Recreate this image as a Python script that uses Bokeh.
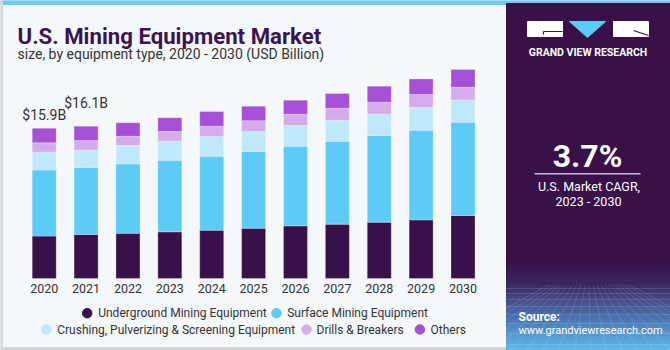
import numpy as np
from bokeh.plotting import figure
from bokeh.models import Range1d, ColumnDataSource
from bokeh.core.properties import value
from bokeh.embed import file_html
from bokeh.resources import INLINE

# ---------------- data ----------------
years = [2020, 2021, 2022, 2023, 2024, 2025, 2026, 2027, 2028, 2029, 2030]
underground = [4.49, 4.66, 4.79, 4.94, 5.11, 5.32, 5.57, 5.75, 5.96, 6.20, 6.67]
surface = [7.00, 7.09, 7.34, 7.58, 7.83, 8.12, 8.43, 8.78, 9.17, 9.49, 9.87]
crushing = [1.88, 1.83, 1.94, 2.01, 2.08, 2.12, 2.19, 2.22, 2.29, 2.40, 2.36]
drills = [0.99, 1.03, 0.98, 1.03, 1.09, 1.13, 1.20, 1.27, 1.24, 1.38, 1.34]
others = [1.53, 1.51, 1.42, 1.45, 1.56, 1.54, 1.48, 1.56, 1.69, 1.65, 1.87]
series_names = ["Underground Mining Equipment", "Surface Mining Equipment",
                "Crushing, Pulverizing & Screening Equipment", "Drills & Breakers", "Others"]
label_years = [2020, 2021]
label_values = [15.9, 16.1]
label_texts = ["$15.9B", "$16.1B"]
year_labels = [str(y) for y in years]

# ---------------- styles ----------------
colors = ["#38104a", "#5ecaf6", "#bfe9fa", "#d5abec", "#a650d8"]
BG = "#f4f8fb"
PANEL = "#371148"
FONT = "Roboto"
label_offsets = [-13, -23.5]

src = ColumnDataSource(dict(year=years, s0=underground, s1=surface, s2=crushing,
                            s3=drills, s4=others))

p = figure(width=670, height=350,
           x_range=Range1d(2018.9565, 2034.9545), y_range=Range1d(-7.619, 29.418),
           output_backend="svg", toolbar_location=None, min_border=0,
           x_axis_location=None, y_axis_location=None,
           background_fill_color=BG, border_fill_color=BG, outline_line_color=None)
p.xgrid.visible = False
p.ygrid.visible = False
p.extra_x_ranges = {"px": Range1d(0, 670)}
p.extra_y_ranges = {"px": Range1d(350, 0)}
PX = dict(x_range_name="px", y_range_name="px")

# ---------------- frame decorations ----------------
p.quad(left=[0], right=[670], top=[0], bottom=[4], color="#6dcaf0", **PX)
p.quad(left=[0], right=[2], top=[0], bottom=[350], color="#d6dadd", **PX)
p.quad(left=[0], right=[670], top=[347], bottom=[350], color="#d2d6d9", **PX)

# right panel with gradient at the bottom
p.quad(left=[506], right=[670], top=[3], bottom=[350], color=PANEL, **PX)
stops_y = [262, 285, 300, 320, 350]
stops_c = [(0x37, 0x11, 0x48), (0x3b, 0x28, 0x62), (0x45, 0x4c, 0x88),
           (0x4a, 0x78, 0xb4), (0x60, 0xba, 0xea)]
ys = np.arange(262, 350, 2)
cols = []
for yv in ys:
    rgb = [int(np.interp(yv + 1, stops_y, [c[k] for c in stops_c])) for k in range(3)]
    cols.append("#%02x%02x%02x" % tuple(rgb))
p.quad(left=506, right=670, top=list(ys), bottom=list(ys + 2), color=cols, **PX)
# faint perspective grid
hy = [288, 293, 299, 306, 314, 323, 333, 344]
p.multi_line(xs=[[506, 670]] * len(hy), ys=[[h, h] for h in hy],
             line_color="white", line_alpha=0.13, line_width=1, **PX)
vx = np.arange(430, 760, 16)
p.multi_line(xs=[[588 + (v - 588) * 0.25, v] for v in vx], ys=[[284, 350]] * len(vx),
             line_color="white", line_alpha=0.13, line_width=1, **PX)

# logo
p.quad(left=[527, 613], right=[562, 648], top=[21, 21], bottom=[36, 36], color="white", **PX)
p.patch(x=[569, 605, 587], y=[21, 21, 37], color="#5ecaf6", **PX)
p.multi_line(xs=[[543, 562], [543, 543], [633, 648]], ys=[[31, 31], [31, 34], [30, 35]],
             line_color=PANEL, line_width=1.2, **PX)
p.text(x=[587.5], y=[51.7], text=["GRAND VIEW RESEARCH"], text_font=value(FONT),
       text_font_style="bold", text_font_size="10.5px", text_color="white",
       text_align="center", text_baseline="middle", **PX)

# CAGR block
p.text(x=[587], y=[155], text=["3.7%"], text_font=value(FONT), text_font_style="bold",
       text_font_size="32px", text_color="white", text_align="center",
       text_baseline="middle", **PX)
p.segment(x0=[534], y0=[173.3], x1=[640], y1=[173.3], line_color="#c9b9dc",
          line_width=1.5, **PX)
p.text(x=[588.5, 588], y=[185.5, 201], text=["U.S. Market CAGR,", "2023 - 2030"],
       text_font=value(FONT), text_font_size="12.5px", text_color="white",
       text_align="center", text_baseline="middle", **PX)
p.text(x=[518], y=[316], text=["Source:"], text_font=value(FONT), text_font_style="bold",
       text_font_size="12px", text_color="white", text_align="left",
       text_baseline="middle", **PX)
p.text(x=[518], y=[329.5], text=["www.grandviewresearch.com"], text_font=value(FONT),
       text_font_size="11px", text_color="white", text_align="left",
       text_baseline="middle", **PX)

# titles
p.text(x=[17], y=[35], text=["U.S. Mining Equipment Market"], text_font=value(FONT),
       text_font_style="bold", text_font_size="22.2px", text_color="#3a1450",
       text_align="left", text_baseline="alphabetic", **PX)
p.text(x=[17], y=[53.5], text=["size, by equipment type, 2020 - 2030 (USD Billion)"],
       text_font=value(FONT), text_font_size="14px", text_color="#333333",
       text_align="left", text_baseline="alphabetic", **PX)

# ---------------- bars ----------------
p.vbar_stack(["s0", "s1", "s2", "s3", "s4"], x="year", width=0.573, color=colors,
             line_color="white", line_alpha=0.35, line_width=0.8, source=src)

# year labels
p.text(x=years, y=287.5, text=year_labels, text_font=value(FONT), text_font_size="12.5px",
       text_color="#333333", text_align="center", text_baseline="middle",
       y_range_name="px")

# value labels
p.text(x=label_years, y=label_values, text=label_texts, y_offset=label_offsets,
       text_font=value(FONT), text_font_size="14px", text_color="#333333",
       text_align="center", text_baseline="middle")

# ---------------- legend ----------------
leg_cx = [86.7, 276, 45.7, 306, 419.3]
leg_cy = [312.7, 312.7, 329, 329, 329]
leg_tx = [97.7, 286.7, 56.7, 316, 430]
p.scatter(x=leg_cx, y=leg_cy, marker="circle", size=9.5, color=colors, **PX)
p.text(x=leg_tx, y=leg_cy, text=series_names, text_font=value(FONT),
       text_font_size="12px", text_color="#333333", text_align="left",
       text_baseline="middle", **PX)

open("out.html", "w").write(file_html(p, INLINE))
